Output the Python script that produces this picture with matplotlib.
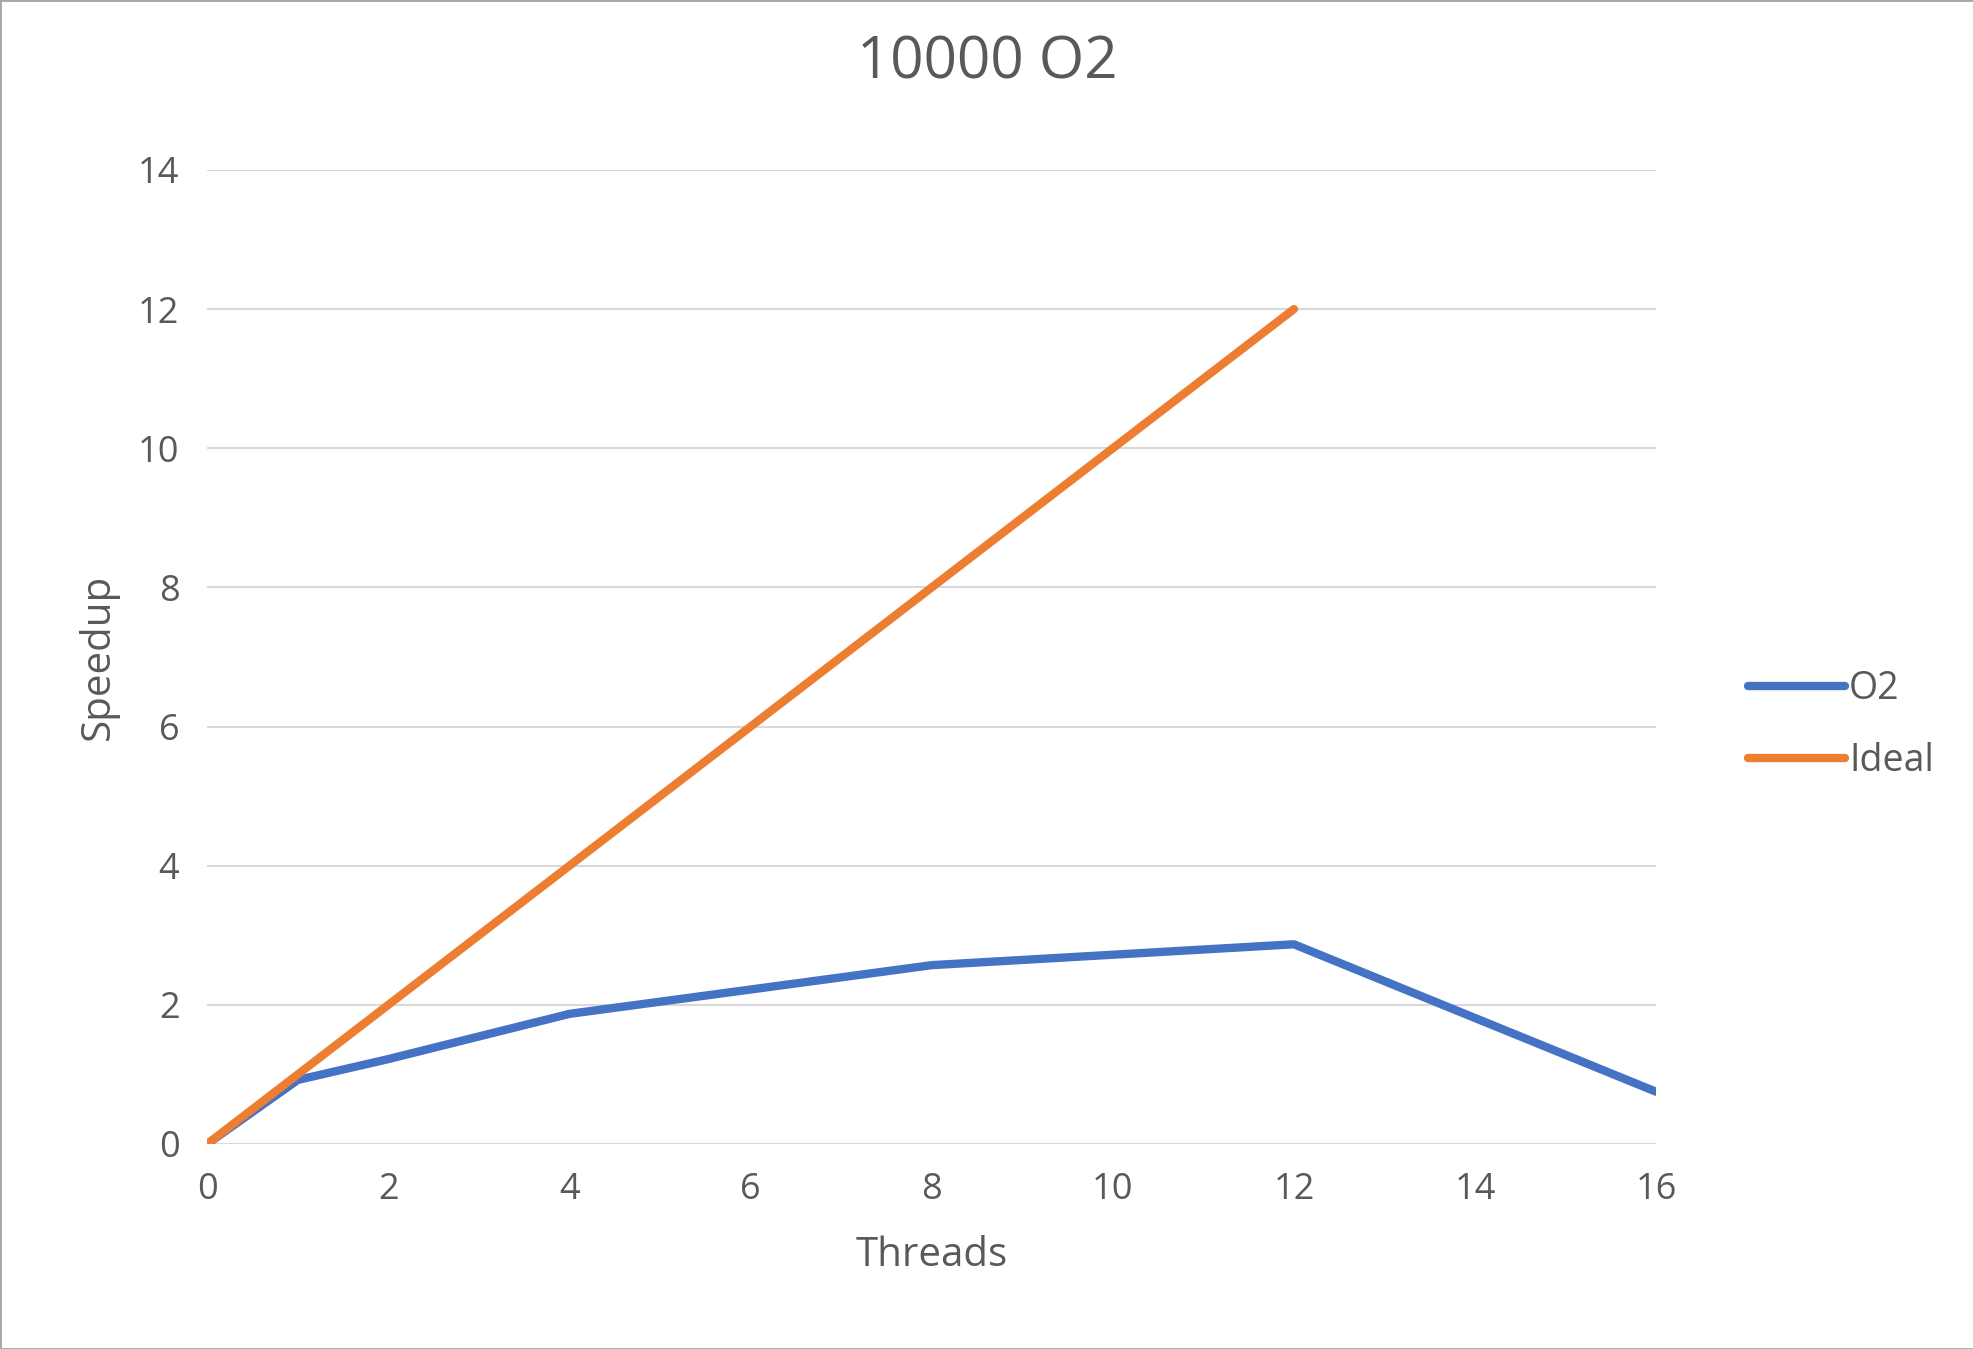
import matplotlib.pyplot as plt
from matplotlib.patches import Rectangle

threads_o2 = [0, 1, 2, 4, 8, 12, 16]
speedup_o2 = [0, 0.92, 1.22, 1.87, 2.57, 2.87, 0.75]
threads_ideal = [0, 1, 2, 4, 8, 12]
speedup_ideal = [0, 1, 2, 4, 8, 12]

plt.rcParams['font.family'] = ['Open Sans', 'DejaVu Sans']
fig = plt.figure(figsize=(19.74, 13.49), dpi=100)
ax = fig.add_axes([0.105, 0.152, 0.734, 0.722])

ax.plot(threads_o2, speedup_o2, color='#4472C4', lw=6, label='O2', solid_capstyle='round')
ax.plot(threads_ideal, speedup_ideal, color='#ED7D31', lw=6, label='Ideal', solid_capstyle='round')

ax.set_xlim(0, 16)
ax.set_ylim(0, 14)
ax.set_xticks(range(0, 17, 2))
ax.set_yticks(range(0, 15, 2))
ax.grid(axis='y', color='#D9D9D9', lw=1.5)
ax.set_axisbelow(True)
for s in ax.spines.values():
    s.set_visible(False)
ax.tick_params(length=0, labelsize=26, colors='#595959', pad=20)
ax.set_xlabel('Threads', fontsize=29, color='#595959', labelpad=20)
ax.set_ylabel('Speedup', fontsize=29, color='#595959', labelpad=14)
fig.suptitle('10000 O2', fontsize=42, color='#595959', x=0.5, y=0.975)

ax.legend(loc='center left', bbox_to_anchor=(1.04, 0.43), frameon=False,
          fontsize=27, labelcolor='#595959', handlelength=2.6, handletextpad=0.1,
          labelspacing=0.9)

fig.patches.append(Rectangle((0, 0), 1, 1, transform=fig.transFigure, fill=False,
                             edgecolor='#A6A6A6', lw=2))
fig.savefig('out.png', dpi=100)
